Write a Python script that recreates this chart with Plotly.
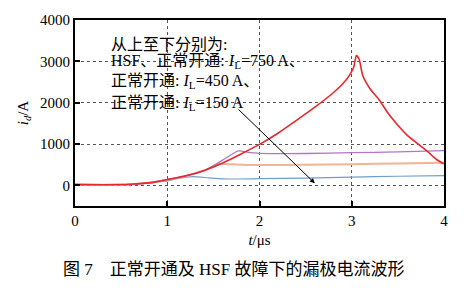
import plotly.graph_objects as go

# ---- data ----
t_red = [0, 0.3, 0.6, 0.8, 0.9, 1.0, 1.2, 1.4, 1.6, 1.8, 2.0, 2.2, 2.4, 2.6, 2.8, 2.9, 2.98, 3.02, 3.05,
         3.08, 3.12, 3.2, 3.3, 3.39, 3.49, 3.6, 3.71, 3.82, 3.92, 4.0]
v_red = [20, 15, 25, 60, 95, 140, 230, 360, 540, 760, 990, 1260, 1570, 1890, 2240, 2450, 2680, 2850, 3140,
         3050, 2650, 2330, 2060, 1755, 1480, 1215, 1015, 820, 625, 520]

t_pur = [0, 0.3, 0.6, 0.8, 0.9, 1.0, 1.2, 1.4, 1.52, 1.65, 1.77, 1.9, 2.0, 2.5, 3.0, 3.5, 4.0]
v_pur = [20, 15, 25, 60, 95, 135, 225, 355, 500, 680, 835, 790, 775, 770, 790, 810, 840]

t_org = [0, 0.3, 0.6, 0.8, 0.9, 1.0, 1.2, 1.4, 1.5, 1.57, 1.75, 2.0, 2.5, 3.0, 3.5, 4.0]
v_org = [20, 15, 25, 60, 95, 135, 225, 355, 450, 515, 505, 490, 495, 510, 530, 545]

t_blu = [0, 0.3, 0.6, 0.8, 0.9, 1.0, 1.1, 1.28, 1.45, 1.6, 2.0, 2.5, 3.0, 3.5, 4.0]
v_blu = [15, 10, 20, 50, 80, 110, 160, 210, 180, 155, 160, 175, 200, 220, 235]

x_ticks = [0, 1, 2, 3, 4]
y_ticks = [0, 1000, 2000, 3000, 4000]

legend_lines = [
    "从上至下分别为:",
    "HSF、正常开通: <i>I</i><sub>L</sub>=750 A、",
    "正常开通: <i>I</i><sub>L</sub>=450 A、",
    "正常开通: <i>I</i><sub>L</sub>=150 A",
]
caption = "图 7　正常开通及 HSF 故障下的漏极电流波形"

FONT = "Liberation Serif, Times New Roman, Noto Sans CJK SC, serif"

fig = go.Figure()
series = [
    (t_blu, v_blu, "#6f9fcb", 1.2),
    (t_org, v_org, "#f3b396", 2.0),
    (t_pur, v_pur, "#b276c2", 1.3),
    (t_red, v_red, "#e8282c", 1.6),
]
for t, v, c, w in series:
    fig.add_trace(go.Scatter(x=t, y=v, mode="lines",
                             line=dict(color=c, width=w, shape="spline", smoothing=0.6),
                             showlegend=False, hoverinfo="skip"))

axis_common = dict(showline=True, linecolor="black", linewidth=2, mirror=True,
                   ticks="inside", ticklen=5, tickwidth=2, tickcolor="black",
                   showgrid=True, gridcolor="#555555", griddash="dot", gridwidth=1.3,
                   zeroline=False, tickfont=dict(family=FONT, size=15, color="black"))

fig.update_xaxes(range=[0, 4], tickvals=x_ticks, ticktext=[str(v) for v in x_ticks],
                 title=dict(text="<i>t</i>/μs", font=dict(family=FONT, size=15, color="black"), standoff=6),
                 **axis_common)
fig.update_yaxes(range=[-500, 4000], tickvals=y_ticks, ticktext=[str(v) for v in y_ticks],
                 title=dict(text="<i>i</i><sub><i>d</i></sub>/A", font=dict(family=FONT, size=15, color="black"), standoff=8),
                 **axis_common)

ys = [0.870, 0.776, 0.667, 0.552]
for txt, yy in zip(legend_lines, ys):
    fig.add_annotation(text=txt, xref="paper", yref="paper", x=0.093, y=yy,
                       xanchor="left", yanchor="middle", showarrow=False,
                       font=dict(family=FONT, size=16, color="black"))

fig.add_annotation(x=2.60, y=50, ax=1.756, ay=1871, xref="x", yref="y", axref="x", ayref="y",
                   text="", showarrow=True, arrowhead=2, arrowsize=1, arrowwidth=1, arrowcolor="black")

fig.add_annotation(text=caption, xref="paper", yref="paper", x=0.43, y=-0.344,
                   xanchor="center", yanchor="middle", showarrow=False,
                   font=dict(family=FONT, size=17, color="black"))

fig.update_layout(width=474, height=292, margin=dict(l=75, r=30, t=14, b=86),
                  plot_bgcolor="white", paper_bgcolor="white")

fig.write_html("out.html")
